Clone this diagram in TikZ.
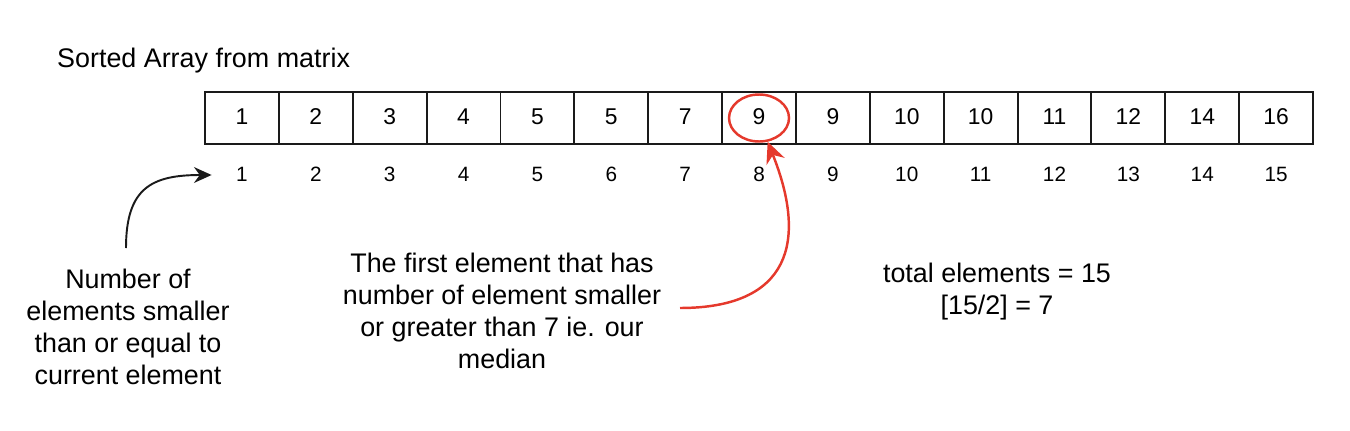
\documentclass[tikz,border=0pt]{standalone}
\usepackage{fontspec}
\setmainfont{Liberation Sans}
\usetikzlibrary{
  arrows.meta,
  positioning,
  shapes.geometric
}
\definecolor{mdred}{HTML}{E5392C}
\definecolor{mdblack}{HTML}{1A1A1A}

\begin{document}
\begin{tikzpicture}[
      x=0.02cm, y=-0.02cm,
      cell/.style={
        rectangle, draw=mdblack, line width=1.1pt,
        minimum width=1.4774cm, minimum height=1.04cm, inner sep=0pt,
        text height=1.45ex, text depth=0pt,
        font=\fontsize{13}{15}\selectfont
      },
      idx/.style={
        minimum width=1.2cm, inner sep=0pt,
        text height=1.45ex, text depth=0pt,
        font=\fontsize{11.8}{14}\selectfont
      },
      note/.style={align=center, font=\fontsize{15.3}{18.2}\selectfont},
      pick/.style={ellipse, draw=mdred, line width=1.4pt, minimum width=1.2cm, minimum height=0.94cm},
      arrow/.style={-{Stealth[length=10pt, width=9pt]}, line width=1.1pt, mdblack},
      redarrow/.style={-{Stealth[length=12pt, width=11pt]}, line width=1.4pt, mdred}
    ]
      \useasboundingbox (0,0) rectangle (1350,430);

      \node[note, anchor=west] (title) at (51,61) {Sorted Array from matrix};

      % array cells and their counts
      \foreach \v [count=\i] in {1,2,3,4,5,5,7,9,9,10,10,11,12,14,16} {
        \node[cell] (cell\i) at ({205+73.87*(\i-0.5)},118) {\v};
        \node[idx] (idx\i) at ({205+73.87*(\i-0.5)},175) {\i};
      }

      \node[pick] (median) at (cell8) {};

      \node[note] (count) at (128,327) {
        Number of\\
        elements smaller\\
        than or equal to\\
        current element
      };
      \node[note] (first) at (502,311) {
        The first element that has\\
        number of element smaller\\
        or greater than 7 ie. our\\
        median
      };
      \node[note] (total) at (997,292) {
        total elements = 15\\
        {[15/2]} = 7
      };

      \coordinate (countTop) at (126,248);
      \coordinate (firstEnd) at (680,308);

      \draw[arrow] (countTop) .. controls +(0,-60) and +(-60,0) .. (idx1.west);
      \draw[redarrow] (firstEnd) .. controls +(110,0) and +(40,100) .. (median.-70);
    \end{tikzpicture}
\end{document}
